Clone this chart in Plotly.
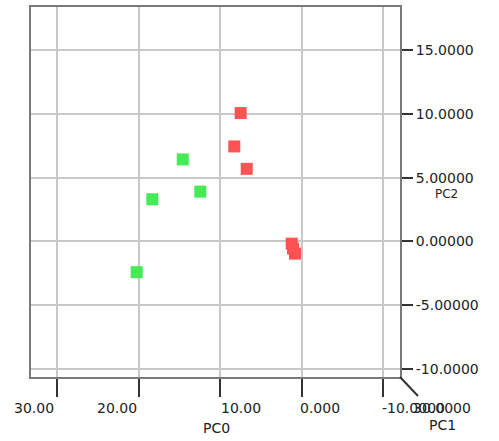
import plotly.graph_objects as go

# PCA scores (PC0 on x, PC2 on y)
red_pc0 = [7.47, 8.26, 6.73, 1.20, 1.04, 0.80]
red_pc2 = [10.08, 7.46, 5.70, -0.18, -0.57, -0.96]
green_pc0 = [14.59, 18.33, 12.43, 20.25]
green_pc2 = [6.44, 3.31, 3.91, -2.42]

x_ticks = [30, 20, 10, 0, -10]
x_tick_text = ["30.00", "20.00", "10.00", "0.000", "-10.0000"]
y_ticks = [15, 10, 5, 0, -5, -10]
y_tick_text = ["15.0000", "10.0000", "5.00000", "0.00000", "-5.00000", "-10.0000"]

FONT = "DejaVu Sans"
TXT = "#222222"

fig = go.Figure()
fig.add_trace(go.Scatter(x=red_pc0, y=red_pc2, mode="markers",
                         marker=dict(symbol="square", size=12, color="#ff5252",
                                     line=dict(width=0)), showlegend=False))
fig.add_trace(go.Scatter(x=green_pc0, y=green_pc2, mode="markers",
                         marker=dict(symbol="square", size=12, color="#45ea55",
                                     line=dict(width=0)), showlegend=False))

fig.update_xaxes(range=[33.23, -12.1], tickvals=x_ticks, showticklabels=False,
                 ticks="outside", ticklen=18, tickcolor="#333333", tickwidth=2,
                 showgrid=True, gridcolor="#c8c8c8", gridwidth=2, zeroline=False,
                 showline=True, mirror=True, linecolor="#7a7a7a", linewidth=2)
fig.update_yaxes(range=[-10.65, 18.41], tickvals=y_ticks, ticktext=y_tick_text,
                 side="right", ticks="outside", ticklen=11, tickcolor="#333333", tickwidth=2,
                 tickfont=dict(family=FONT, size=14, color=TXT),
                 showgrid=True, gridcolor="#c8c8c8", gridwidth=2, zeroline=False,
                 showline=True, mirror=True, linecolor="#7a7a7a", linewidth=2)

anchors = ["right", "right", "left", "left", "left"]
shifts = [-1, 0, -1, -4, -3]
annotations = []
for v, t, a, s in zip(x_ticks, x_tick_text, anchors, shifts):
    annotations.append(dict(x=v, y=0, xref="x", yref="paper", text=t, showarrow=False,
                            xanchor=a, yanchor="middle", xshift=s, yshift=-31,
                            font=dict(family=FONT, size=14, color=TXT)))
# overlapping PC1 axis label
annotations.append(dict(x=-10, y=0, xref="x", yref="paper", text="30.0000", showarrow=False,
                        xanchor="right", yanchor="middle", xshift=90, yshift=-31,
                        font=dict(family=FONT, size=14, color=TXT)))
annotations.append(dict(x=10, y=0, xref="x", yref="paper", text="PC0", showarrow=False,
                        xanchor="center", yanchor="middle", xshift=-4, yshift=-51,
                        font=dict(family=FONT, size=14, color=TXT)))
annotations.append(dict(x=-10, y=0, xref="x", yref="paper", text="PC1", showarrow=False,
                        xanchor="center", yanchor="middle", xshift=60, yshift=-48,
                        font=dict(family=FONT, size=14, color=TXT)))
annotations.append(dict(x=1, y=5, xref="paper", yref="y", text="PC2", showarrow=False,
                        xanchor="center", yanchor="middle", xshift=46, yshift=-16,
                        font=dict(family=FONT, size=12, color=TXT)))

fig.update_layout(
    width=499, height=441,
    margin=dict(l=31, r=99, t=5, b=64),
    paper_bgcolor="white", plot_bgcolor="white",
    annotations=annotations,
    shapes=[dict(type="line", xref="paper", yref="paper",
                 xsizemode="pixel", ysizemode="pixel", xanchor=1, yanchor=0,
                 x0=0, x1=18, y0=0, y1=-19, line=dict(color="#333333", width=2))],
)
fig.write_html("out.html", config={"displayModeBar": False},
               post_script="document.body.style.margin='0';")
